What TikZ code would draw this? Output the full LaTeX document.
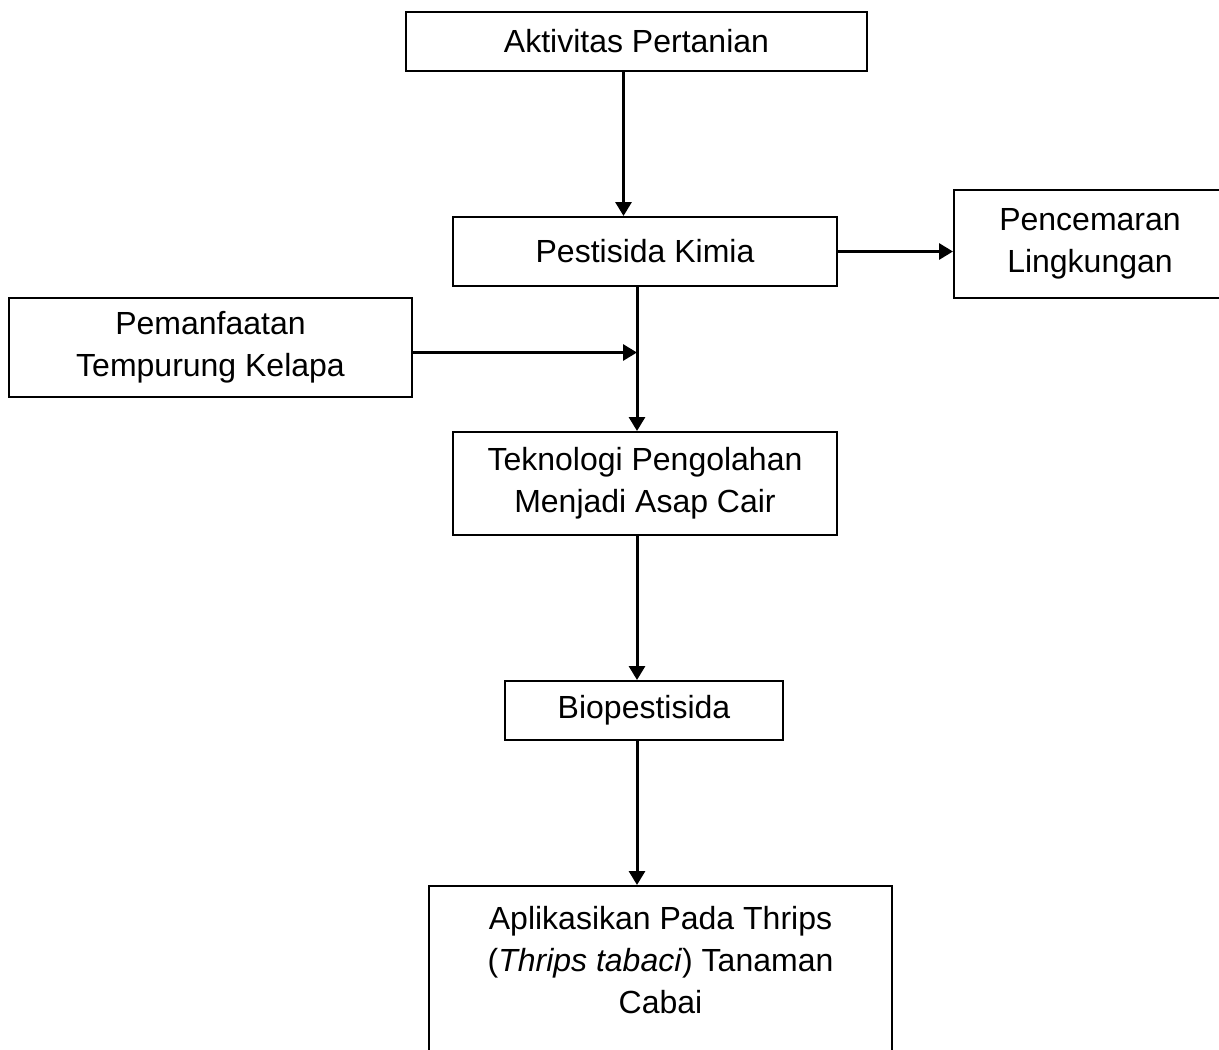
\documentclass[tikz,border=0pt]{standalone}
\usepackage{fontspec}
\setmainfont{Liberation Sans}
\usetikzlibrary{arrows.meta,calc}
\tikzset{
    box/.style={rectangle, draw=black, line width=2pt, fill=white, inner sep=0pt, align=center, font=\fontsize{32}{42}\selectfont},
    flow/.style={-{Triangle[length=14pt,width=16pt]}, line width=3pt, black}
}

\begin{document}
\begin{tikzpicture}[x=1pt,y=-1pt]
    \clip (0,0) rectangle (1219,1050);
    \fill[white] (0,0) rectangle (1219,1050);

    % Main chain
    \node[box, minimum width=461pt, minimum height=59pt] at (636.5,41.5) (akt) {Aktivitas Pertanian};
    \node[box, minimum width=384pt, minimum height=69pt] at (645,251.5) (pest) {Pestisida Kimia};
    \node[box, minimum width=384pt, minimum height=103pt] at (645,483.5) (tek) {Teknologi Pengolahan\\Menjadi Asap Cair};
    \node[box, minimum width=278pt, minimum height=59pt] at (644,710.5) (bio) {Biopestisida};
    \node[box, minimum width=463pt, minimum height=190pt, anchor=north] at (660.5,885) (apl) {Aplikasikan Pada Thrips\\(\textit{Thrips tabaci}) Tanaman\\Cabai\\\mbox{}};

    % Side boxes
    \node[box, minimum width=272pt, minimum height=108pt] at (1090,244) (pcm) {Pencemaran\\Lingkungan};
    \node[box, minimum width=403pt, minimum height=99pt] at (210.5,347.5) (pem) {Pemanfaatan\\Tempurung Kelapa};

    % Arrows
    \coordinate (top) at ([xshift=-13pt]akt.south);
    \coordinate (spine) at ([xshift=-8pt]pest.south);
    \coordinate (feed) at ([yshift=-5pt]pem.east);
    \draw[flow] (top) -- (top |- pest.north);
    \draw[flow] (pest.east) -- (pest.east -| pcm.west);
    \draw[flow] (spine) -- (spine |- tek.north);
    \draw[flow] (feed) -- (feed -| spine);
    \draw[flow] ([xshift=-8pt]tek.south) -- ([xshift=-8pt]tek.south |- bio.north);
    \draw[flow] ([xshift=-7pt]bio.south) -- ([xshift=-7pt]bio.south |- apl.north);
\end{tikzpicture}
\end{document}
